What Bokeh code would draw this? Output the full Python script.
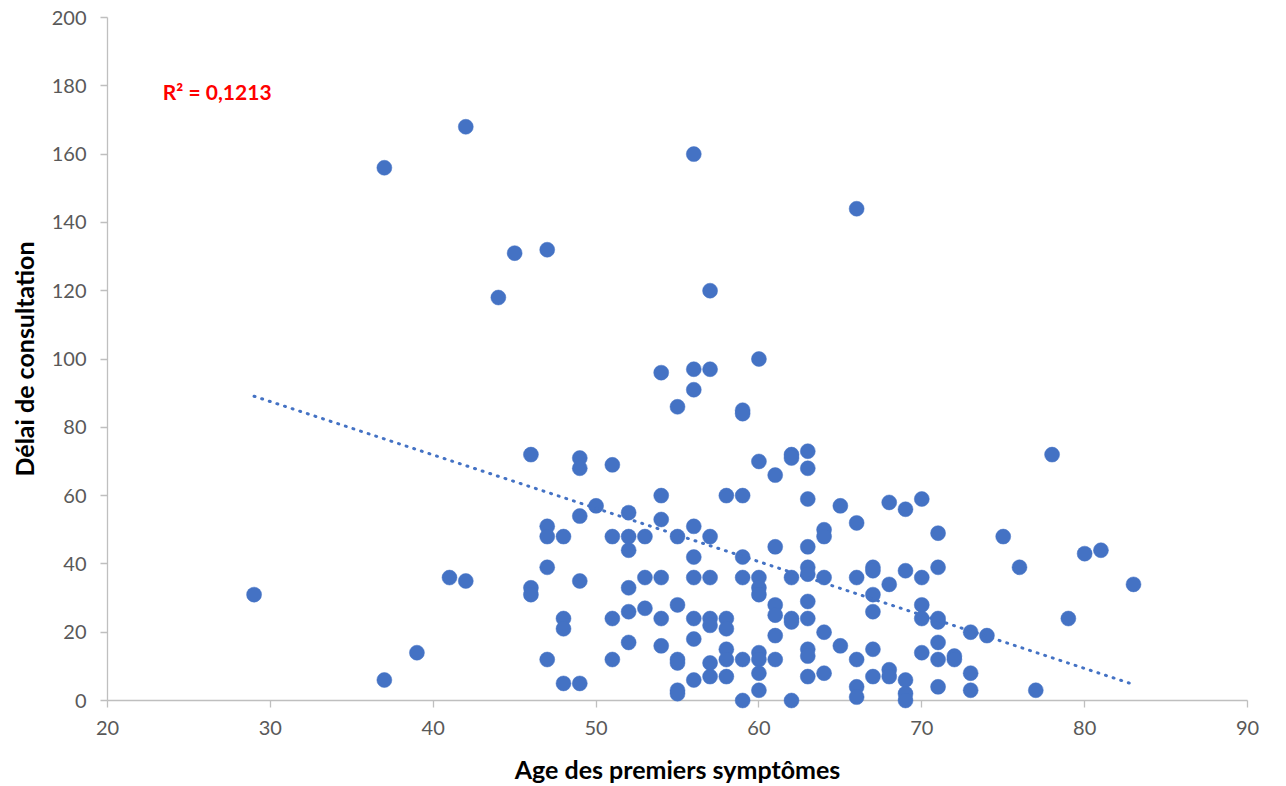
from bokeh.plotting import figure
from bokeh.models import Range1d, Label, FixedTicker, ColumnDataSource
from bokeh.embed import file_html
from bokeh.resources import INLINE

# ---- data (age at first symptoms, consultation delay) ----
age = (
    [29] + [37] * 2 + [39] + [41] + [42] * 2 + [44] + [45] + [46] * 3 + [47] * 5
    + [48] * 4 + [49] * 5 + [50] + [51] * 4 + [52] * 6 + [53] * 3 + [54] * 6
    + [55] * 7 + [56] * 9 + [57] * 8 + [58] * 6 + [59] * 7 + [60] * 9 + [61] * 6
    + [62] * 6 + [63] * 11 + [64] * 5 + [65] * 2 + [66] * 6 + [67] * 6 + [68] * 4
    + [69] * 5 + [70] * 5 + [71] * 7 + [72] * 2 + [73] * 3 + [74] + [75] + [76]
    + [77] + [78] + [79] + [80] + [81] + [83]
)
delai = [
    31,
    156, 6,
    14,
    36,
    168, 35,
    118,
    131,
    72, 33, 31,
    132, 51, 48, 39, 12,
    48, 24, 21, 5,
    71, 68, 54, 35, 5,
    57,
    69, 48, 24, 12,
    55, 48, 44, 33, 26, 17,
    48, 36, 27,
    96, 60, 53, 36, 24, 16,
    86, 48, 28, 12, 11, 3, 2,
    160, 97, 91, 51, 42, 36, 24, 18, 6,
    120, 97, 48, 36, 24, 22, 11, 7,
    60, 24, 21, 15, 12, 7,
    85, 84, 60, 42, 36, 12, 0,
    100, 70, 36, 33, 31, 14, 12, 8, 3,
    66, 45, 28, 25, 19, 12,
    72, 71, 36, 24, 23, 0,
    73, 68, 59, 45, 39, 37, 29, 24, 15, 13, 7,
    50, 48, 36, 20, 8,
    57, 16,
    144, 52, 36, 12, 4, 1,
    39, 38, 31, 26, 15, 7,
    58, 34, 9, 7,
    56, 38, 6, 2, 0,
    59, 36, 28, 24, 14,
    49, 39, 24, 23, 17, 12, 4,
    13, 12,
    20, 8, 3,
    19,
    48,
    39,
    3,
    72,
    24,
    43,
    44,
    34,
]
# linear trend line (as shown in the chart): end points
trend_age = [29, 83]
trend_delai = [89.1, 4.7]

x_ticks = [20, 30, 40, 50, 60, 70, 80, 90]
y_ticks = [0, 20, 40, 60, 80, 100, 120, 140, 160, 180, 200]
x_title = "Age des premiers symptômes"
y_title = "Délai de consultation"
r2_text = "R² = 0,1213"

FONT = "Lato"
BLUE = "#4472C4"
AXIS = "#BFBFBF"
TICK_TXT = "#595959"

p = figure(
    width=1286, height=786, output_backend="svg", toolbar_location=None,
    x_range=Range1d(20, 90), y_range=Range1d(0, 200),
    min_border_left=107, min_border_right=39, min_border_top=17, min_border_bottom=86,
)
p.outline_line_color = None
p.xgrid.visible = False
p.ygrid.visible = False
p.background_fill_color = "white"
p.border_fill_color = "white"

src = ColumnDataSource(dict(x=age, y=delai))
p.scatter("x", "y", source=src, size=15, fill_color=BLUE, line_color=BLUE,
          line_width=0.5, level="overlay")

p.line(trend_age, trend_delai, line_color=BLUE, line_width=3, line_dash="1 7",
       line_cap="round", level="overlay")

for ax in (p.xaxis[0], p.yaxis[0]):
    ax.axis_line_color = AXIS
    ax.axis_line_width = 1.3
    ax.major_tick_line_color = AXIS
    ax.major_tick_line_width = 1.3
    ax.minor_tick_line_color = None
    ax.major_tick_in = 0
    ax.major_tick_out = 7
    ax.major_label_text_font = FONT
    ax.major_label_text_font_size = "20px"
    ax.major_label_text_color = TICK_TXT
    ax.axis_label_text_font = FONT
    ax.axis_label_text_font_style = "bold"
    ax.axis_label_text_font_size = "25px"
    ax.axis_label_text_color = "black"

p.xaxis.ticker = FixedTicker(ticks=x_ticks)
p.yaxis.ticker = FixedTicker(ticks=y_ticks)
p.xaxis.axis_label = x_title
p.yaxis.axis_label = y_title
p.xaxis.major_label_standoff = 13
p.xaxis.axis_label_standoff = 16
p.yaxis.major_label_standoff = 14
p.yaxis.axis_label_standoff = 10

p.add_layout(Label(x=23.4, y=178.3, text=r2_text, text_color="red",
                   text_font=FONT, text_font_style="bold", text_font_size="21px",
                   text_baseline="middle", text_align="left"))

open("out.html", "w").write(file_html(p, INLINE))
